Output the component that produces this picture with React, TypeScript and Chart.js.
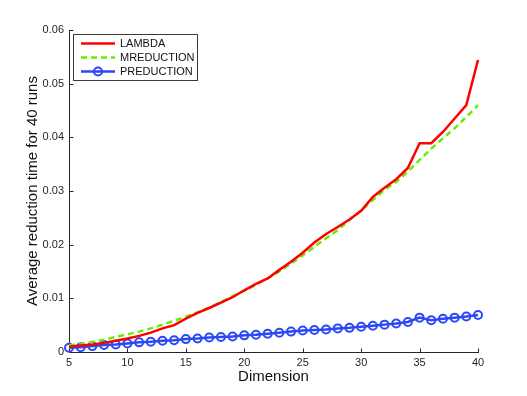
import React, { useEffect, useRef } from 'react';
import { Chart, registerables } from 'chart.js';

Chart.register(...registerables);

const dimensions = [5, 6, 7, 8, 9, 10, 11, 12, 13, 14, 15, 16, 17, 18, 19, 20, 21, 22, 23, 24, 25, 26, 27, 28, 29, 30, 31, 32, 33, 34, 35, 36, 37, 38, 39, 40];

const lambda = [0.0010, 0.0012, 0.0014, 0.0017, 0.0021, 0.0025, 0.0030, 0.0036, 0.0044, 0.0050, 0.0062, 0.0073, 0.0082, 0.0092, 0.0102, 0.0115, 0.0127, 0.0137, 0.0153, 0.0168, 0.0185, 0.0204, 0.0220, 0.0233, 0.0247, 0.0263, 0.0289, 0.0306, 0.0322, 0.0343, 0.0389, 0.0389, 0.0410, 0.0435, 0.0460, 0.0544];

const mreduction = [0.0012, 0.0015, 0.0019, 0.0023, 0.0028, 0.0033, 0.0038, 0.0044, 0.0051, 0.0058, 0.0066, 0.0074, 0.0083, 0.0093, 0.0104, 0.0114, 0.0125, 0.0137, 0.0150, 0.0165, 0.0180, 0.0196, 0.0212, 0.0227, 0.0246, 0.0264, 0.0283, 0.0302, 0.0317, 0.0336, 0.0358, 0.0379, 0.0398, 0.0417, 0.0438, 0.0460];

const preduction = [0.0008, 0.0009, 0.0011, 0.0013, 0.0014, 0.0016, 0.0018, 0.0019, 0.0021, 0.0022, 0.0024, 0.0025, 0.0027, 0.0028, 0.0029, 0.0031, 0.0032, 0.0034, 0.0036, 0.0038, 0.0040, 0.0041, 0.0042, 0.0044, 0.0045, 0.0047, 0.0049, 0.0051, 0.0053, 0.0056, 0.0064, 0.0059, 0.0062, 0.0064, 0.0066, 0.0069];

const xTicks = [5, 10, 15, 20, 25, 30, 35, 40];
const yTicks = [0, 0.01, 0.02, 0.03, 0.04, 0.05, 0.06];

const seriesLabels = ['LAMBDA', 'MREDUCTION', 'PREDUCTION'];

const FONT = '"Liberation Sans", Arial, Helvetica, sans-serif';
const AXIS_COLOR = '#262626';

const axesPlugin = {
  id: 'matlabAxes',
  beforeDatasetsDraw(chart: any) {
    const { ctx, chartArea, scales } = chart;
    const { left, right, top, bottom } = chartArea;
    const L = Math.round(left) + 0.5;
    const B = Math.round(bottom) + 0.5;
    ctx.save();
    ctx.strokeStyle = AXIS_COLOR;
    ctx.lineWidth = 1;
    ctx.beginPath();
    ctx.moveTo(L, Math.round(top));
    ctx.lineTo(L, B);
    ctx.lineTo(Math.round(right) + 1, B);
    ctx.stroke();
    ctx.beginPath();
    for (const v of xTicks) {
      const px = Math.round(scales.x.getPixelForValue(v)) + 0.5;
      ctx.moveTo(px, B);
      ctx.lineTo(px, B - 4);
    }
    for (const v of yTicks) {
      const py = Math.round(scales.y.getPixelForValue(v)) + 0.5;
      ctx.moveTo(L, py);
      ctx.lineTo(L + 4, py);
    }
    ctx.stroke();
    ctx.restore();
  },
};

const legendPlugin = {
  id: 'matlabLegend',
  afterDraw(chart: any) {
    const { ctx } = chart;
    const bx = 73.5, by = 34.5, bw = 124, bh = 46;
    ctx.save();
    ctx.fillStyle = '#ffffff';
    ctx.fillRect(bx, by, bw, bh);
    ctx.strokeStyle = '#3a3a3a';
    ctx.lineWidth = 1;
    ctx.strokeRect(bx, by, bw, bh);
    const rows = [43.5, 57.5, 71.5];
    chart.data.datasets.forEach((ds: any, i: number) => {
      const y = rows[i];
      ctx.save();
      ctx.strokeStyle = ds.borderColor;
      ctx.lineWidth = ds.borderWidth;
      ctx.setLineDash(ds.borderDash || []);
      ctx.beginPath();
      ctx.moveTo(81, y);
      ctx.lineTo(115, y);
      ctx.stroke();
      ctx.setLineDash([]);
      if (ds.pointRadius > 0) {
        ctx.lineWidth = ds.pointBorderWidth;
        ctx.strokeStyle = ds.pointBorderColor;
        ctx.beginPath();
        ctx.arc(98, y, ds.pointRadius, 0, Math.PI * 2);
        ctx.stroke();
      }
      ctx.restore();
      ctx.fillStyle = '#111';
      ctx.font = `11px ${FONT}`;
      ctx.textBaseline = 'middle';
      ctx.textAlign = 'left';
      ctx.fillText(ds.label, 120, y + 0.5);
    });
    ctx.restore();
  },
};

export default function App() {
  const ref = useRef<HTMLCanvasElement | null>(null);

  useEffect(() => {
    if (!ref.current) return;
    const chart = new Chart(ref.current, {
      type: 'line',
      data: {
        datasets: [
          {
            label: seriesLabels[0],
            data: dimensions.map((d, i) => ({ x: d, y: lambda[i] })),
            borderColor: '#ff0000',
            borderWidth: 2.5,
            pointRadius: 0,
            tension: 0,
            clip: false,
          },
          {
            label: seriesLabels[1],
            data: dimensions.map((d, i) => ({ x: d, y: mreduction[i] })),
            borderColor: '#66ee00',
            borderWidth: 2.5,
            borderDash: [6, 4],
            pointRadius: 0,
            tension: 0,
            clip: false,
          },
          {
            label: seriesLabels[2],
            data: dimensions.map((d, i) => ({ x: d, y: preduction[i] })),
            borderColor: '#2b48f7',
            borderWidth: 2.5,
            pointRadius: 4,
            pointBorderWidth: 2,
            pointBorderColor: '#2b48f7',
            pointBackgroundColor: 'rgba(255,255,255,0)',
            pointStyle: 'circle',
            tension: 0,
            clip: false,
          },
        ] as any,
      },
      options: {
        animation: false,
        responsive: false,
        maintainAspectRatio: false,
        devicePixelRatio: 1,
        layout: { padding: { top: 30, right: 49, left: 0, bottom: 0 } },
        plugins: {
          legend: { display: false },
          tooltip: { enabled: false },
        },
        scales: {
          x: {
            type: 'linear',
            min: 5,
            max: 40,
            grid: { display: false, drawTicks: false, tickLength: 0 },
            border: { display: false },
            afterBuildTicks: (s: any) => {
              s.ticks = xTicks.map((v) => ({ value: v }));
            },
            afterFit: (s: any) => {
              s.height = 44;
            },
            ticks: {
              padding: 4,
              color: AXIS_COLOR,
              font: { family: FONT, size: 11 },
              maxRotation: 0,
              autoSkip: false,
              callback: (v: any) => String(v),
            },
            title: {
              display: true,
              text: 'Dimension',
              color: '#111',
              font: { family: FONT, size: 15 },
              padding: { top: 0, bottom: 10 },
            },
          },
          y: {
            type: 'linear',
            min: 0,
            max: 0.06,
            grid: { display: false, drawTicks: false, tickLength: 0 },
            border: { display: false },
            afterBuildTicks: (s: any) => {
              s.ticks = yTicks.map((v) => ({ value: v }));
            },
            afterFit: (s: any) => {
              s.width = 69;
            },
            ticks: {
              padding: 5,
              color: AXIS_COLOR,
              font: { family: FONT, size: 11 },
              autoSkip: false,
              callback: (v: any) => (Number(v) === 0 ? '0' : Number(v).toFixed(2)),
            },
            title: {
              display: true,
              text: 'Average reduction time for 40 runs',
              color: '#111',
              font: { family: FONT, size: 15 },
              padding: { top: 24, bottom: 0 },
            },
          },
        },
      } as any,
      plugins: [axesPlugin, legendPlugin],
    });
    return () => chart.destroy();
  }, []);

  return (
    <div style={{ position: 'fixed', left: 0, top: 0, width: 527, height: 396, background: '#fff' }}>
      <canvas ref={ref} width={527} height={396} style={{ width: 527, height: 396, display: 'block' }} />
    </div>
  );
}
